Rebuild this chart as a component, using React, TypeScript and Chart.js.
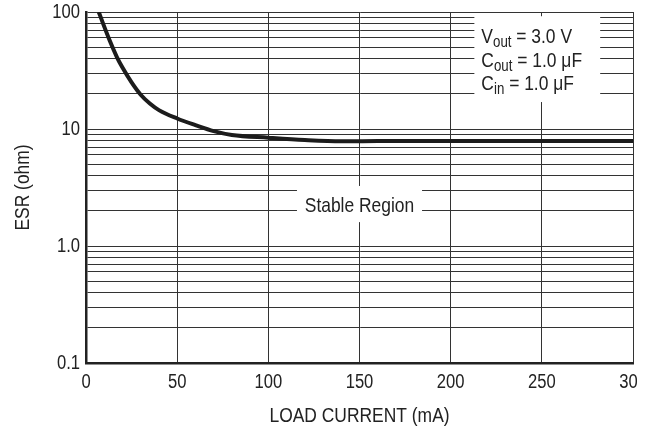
import React, { useEffect, useRef } from 'react';
import { Chart, registerables } from 'chart.js';

Chart.register(...registerables);

// ---- data ----
const loadCurrent = [7, 10, 13, 17, 20, 25, 30, 35, 40, 50, 60, 70, 80, 100, 120, 140, 160, 200, 250, 300];
const esr = [100, 75, 57, 41, 33.5, 25, 19.6, 16.5, 14.5, 12.3, 10.8, 9.6, 8.9, 8.43, 8.05, 7.85, 7.88, 7.9, 7.9, 7.9];
const xTicks = [0, 50, 100, 150, 200, 250, 300];
const yDecades = [0.1, 1, 10, 100];
const yLabels = ['0.1', '1.0', '10', '100'];
const conditionLines: [string, string, string][] = [
  ['V', 'out', ' = 3.0 V'],
  ['C', 'out', ' = 1.0 \u03bcF'],
  ['C', 'in', ' = 1.0 \u03bcF'],
];
const regionLabel = 'Stable Region';

// annotation boxes in data coordinates
const conditionBox = { x0: 213, x1: 282, y0: 17, y1: 92 };
const regionBox = { x0: 115.7, x1: 184.3, y0: 1.6, y1: 3.26 };

const FONT = "'Liberation Sans', Arial, sans-serif";
const SX = 0.83; // narrow (condensed) text look
const INK = '#222';

const yTickValues: number[] = [];
for (let i = 0; i < yDecades.length - 1; i++) {
  for (let k = 1; k <= 9; k++) yTickValues.push(Number((k * yDecades[i]).toPrecision(3)));
}
yTickValues.push(yDecades[yDecades.length - 1]);

const annotationPlugin = {
  id: 'esrAnnotations',
  afterDatasetsDraw(chart: any) {
    const { ctx } = chart;
    const x = chart.scales.x;
    const y = chart.scales.y;
    ctx.save();
    // condition box
    const bx0 = x.getPixelForValue(conditionBox.x0);
    const bx1 = x.getPixelForValue(conditionBox.x1);
    const by0 = y.getPixelForValue(conditionBox.y1);
    const by1 = y.getPixelForValue(conditionBox.y0);
    ctx.fillStyle = '#fff';
    ctx.fillRect(bx0, by0, bx1 - bx0, by1 - by0);
    ctx.fillStyle = INK;
    ctx.textBaseline = 'alphabetic';
    ctx.textAlign = 'left';
    conditionLines.forEach((parts, i) => {
      let tx = bx0 + 7;
      const base = by0 + 27 + i * 23.5;
      ctx.font = `21px ${FONT}`;
      ctx.fillText(parts[0], tx, base);
      tx += ctx.measureText(parts[0]).width * SX;
      ctx.font = `16px ${FONT}`;
      ctx.fillText(parts[1], tx, base + 4);
      tx += ctx.measureText(parts[1]).width * SX;
      ctx.font = `21px ${FONT}`;
      ctx.fillText(parts[2], tx, base);
    });
    // stable region box
    const rx0 = x.getPixelForValue(regionBox.x0);
    const rx1 = x.getPixelForValue(regionBox.x1);
    const ry0 = y.getPixelForValue(regionBox.y1);
    const ry1 = y.getPixelForValue(regionBox.y0);
    ctx.fillStyle = '#fff';
    ctx.fillRect(rx0, ry0, rx1 - rx0, ry1 - ry0);
    ctx.fillStyle = INK;
    ctx.font = `21px ${FONT}`;
    ctx.textAlign = 'center';
    ctx.fillText(regionLabel, (rx0 + rx1) / 2, (ry0 + ry1) / 2 + 7.5);
    ctx.restore();
  },
};

export default function App() {
  const ref = useRef<HTMLCanvasElement | null>(null);
  useEffect(() => {
    const canvas = ref.current;
    if (!canvas) return;
    const ctx = canvas.getContext('2d') as CanvasRenderingContext2D;
    const origFill = ctx.fillText.bind(ctx);
    (ctx as any).fillText = (text: string, tx: number, ty: number, maxWidth?: number) => {
      ctx.save();
      ctx.translate(tx, ty);
      ctx.scale(SX, 1);
      if (maxWidth === undefined) origFill(text, 0, 0);
      else origFill(text, 0, 0, maxWidth / SX);
      ctx.restore();
    };
    const chart = new Chart(ctx, {
      type: 'line',
      data: {
        datasets: [
          {
            data: loadCurrent.map((v, i) => ({ x: v, y: esr[i] })),
            borderColor: '#1c1c1c',
            borderWidth: 4,
            pointRadius: 0,
            fill: false,
            cubicInterpolationMode: 'monotone',
          },
        ],
      },
      options: {
        animation: false,
        responsive: false,
        devicePixelRatio: 1,
        layout: { padding: { left: 0, right: 27, top: 12, bottom: 0 } },
        plugins: { legend: { display: false }, tooltip: { enabled: false } },
        scales: {
          x: {
            type: 'linear',
            min: 0,
            max: 300,
            afterBuildTicks: (s: any) => {
              s.ticks = xTicks.map((v) => ({ value: v }));
            },
            afterFit: (s: any) => {
              s.height = 64;
              s.paddingLeft = 0;
              s.paddingRight = 0;
            },
            grid: { color: '#333', lineWidth: 1, drawTicks: false },
            border: { display: true, color: INK, width: 2.5 },
            ticks: {
              color: INK,
              font: { family: FONT, size: 20 },
              padding: 7,
              maxRotation: 0,
              autoSkip: false,
            },
            title: {
              display: true,
              text: 'LOAD CURRENT (mA)',
              color: INK,
              font: { family: FONT, size: 21, lineHeight: 1 },
              padding: { top: 0, bottom: 0 },
            },
          },
          y: {
            type: 'logarithmic',
            min: 0.1,
            max: 100,
            afterBuildTicks: (s: any) => {
              s.ticks = yTickValues.map((v) => ({ value: v }));
            },
            afterFit: (s: any) => {
              s.width = 86;
              s.paddingTop = 0;
              s.paddingBottom = 0;
            },
            grid: { color: '#333', lineWidth: 1, drawTicks: false },
            border: { display: true, color: INK, width: 2.5 },
            ticks: {
              color: INK,
              font: { family: FONT, size: 20 },
              padding: 6,
              autoSkip: false,
              callback: (v: any) => {
                const idx = yDecades.findIndex((d) => Math.abs(Number(v) - d) / d < 1e-6);
                return idx >= 0 ? yLabels[idx] : '';
              },
            },
            title: {
              display: true,
              text: 'ESR (ohm)',
              color: INK,
              font: { family: FONT, size: 21, lineHeight: 1 },
              padding: { top: 12.5, bottom: 0 },
            },
          },
        },
      },
      plugins: [annotationPlugin],
    } as any);
    return () => chart.destroy();
  }, []);
  return (
    <div style={{ position: 'absolute', left: 0, top: 0, width: 637, height: 427, overflow: 'hidden', background: '#fff' }}>
      <canvas ref={ref} width={660} height={427} style={{ width: 660, height: 427, display: 'block' }} />
    </div>
  );
}
